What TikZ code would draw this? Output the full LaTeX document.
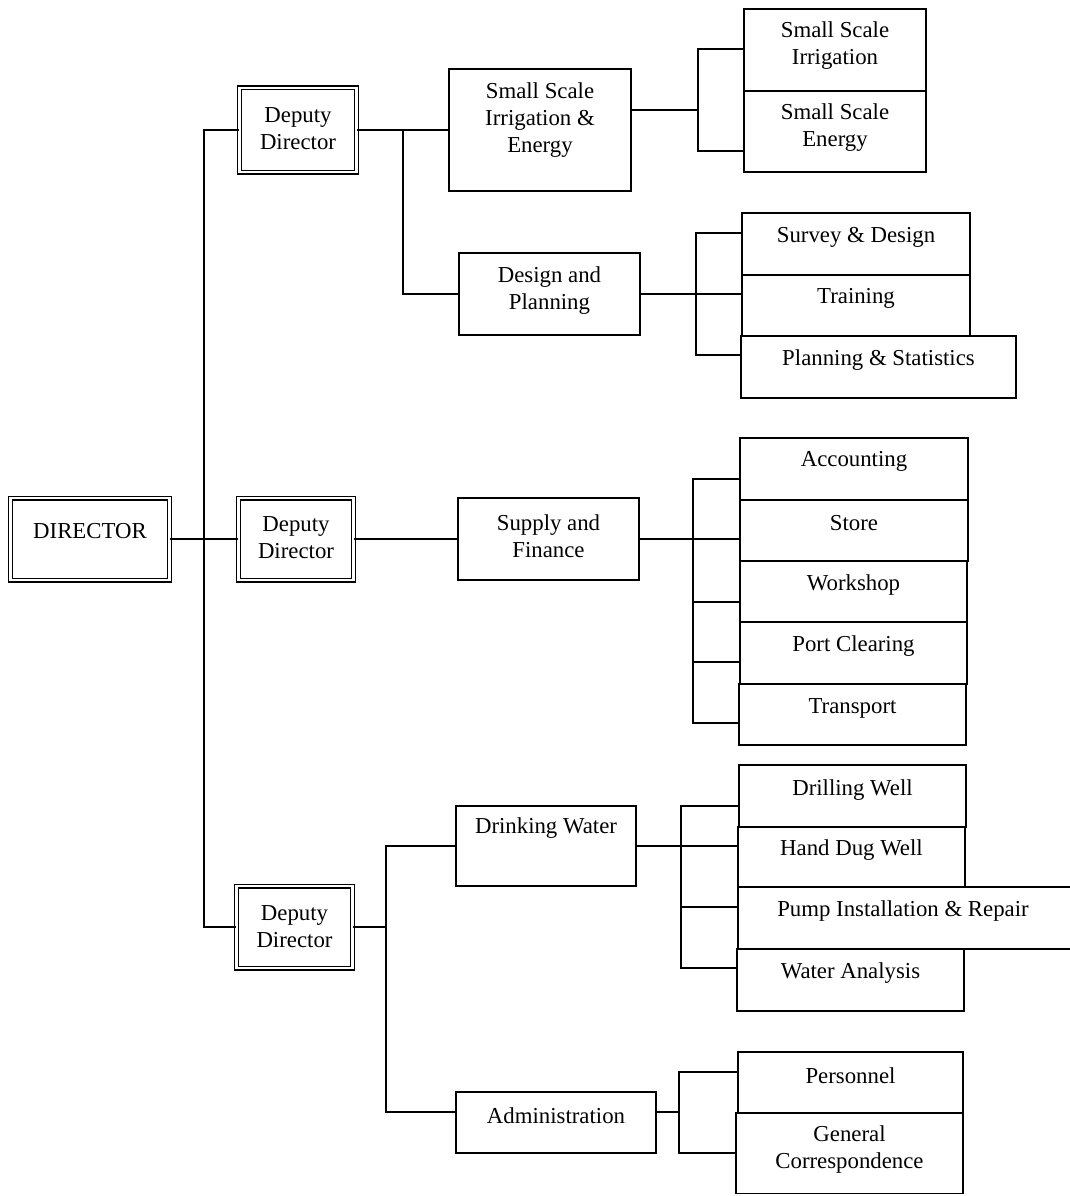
\documentclass[tikz,border=0pt]{standalone}
\usepackage{fontspec}
\setmainfont{Liberation Serif}
\begin{document}
\begin{tikzpicture}[x=1pt,y=-1pt,
  box/.style={draw, line width=1.5pt, inner sep=0pt},
  dbl/.style={draw, double, double distance=2.4pt, line width=1.3pt, inner sep=0pt},
  txt/.style={align=center, font=\fontsize{22.8}{27}\selectfont, inner sep=0pt},
  conn/.style={line width=1.5pt}]
\useasboundingbox (0,0) rectangle (1069,1196);
\fill[white] (0,0) rectangle (1069,1196);
% level 0 and 1
\node[dbl, minimum width=159, minimum height=82, label={[txt,yshift=8pt]center:DIRECTOR}] (dir) at (90,539) {};
\node[dbl, minimum width=117, minimum height=84, label={[txt,yshift=1pt]center:{Deputy\\Director}}] (dd1) at (298,130) {};
\node[dbl, minimum width=115, minimum height=82, label={[txt,yshift=1pt]center:{Deputy\\Director}}] (dd2) at (296,539) {};
\node[dbl, minimum width=116, minimum height=82, label={[txt,yshift=0pt]center:{Deputy\\Director}}] (dd3) at (294.5,927) {};
% level 2
\node[box, minimum width=182, minimum height=122, label={[txt,yshift=10pt]center:{Small Scale\\Irrigation \&\\Energy}}] (ssie) at (540,130) {};
\node[box, minimum width=181, minimum height=82, label={[txt,yshift=3pt]center:{Design and\\Planning}}] (dp) at (549.5,294) {};
\node[box, minimum width=181, minimum height=82, label={[txt,yshift=3pt]center:{Supply and\\Finance}}] (sf) at (548.5,539) {};
\node[box, minimum width=180, minimum height=80, label={[txt,yshift=18pt]center:{Drinking Water}}] (dw) at (546,846) {};
\node[box, minimum width=200, minimum height=61, label={[txt,yshift=7pt]center:{Administration}}] (adm) at (556,1122.5) {};
% level 3
\node[box, minimum width=182, minimum height=82, label={[txt,yshift=4pt]center:{Small Scale\\Irrigation}}] (ssi) at (835,50) {};
\node[box, minimum width=182, minimum height=81, label={[txt,yshift=4pt]center:{Small Scale\\Energy}}] (sse) at (835,131.5) {};
\node[box, minimum width=228, minimum height=62, label={[txt,yshift=7pt]center:{Survey \& Design}}] (sd) at (856,244) {};
\node[box, minimum width=228, minimum height=61, label={[txt,yshift=7pt]center:{Training}}] (tr) at (856,305.5) {};
\node[box, minimum width=275, minimum height=62, label={[txt,yshift=7pt]center:{Planning \& Statistics}}] (ps) at (878.5,367) {};
\node[box, minimum width=228, minimum height=62, label={[txt,yshift=8pt]center:{Accounting}}] (acc) at (854,469) {};
\node[box, minimum width=228, minimum height=61, label={[txt,yshift=7pt]center:{Store}}] (store) at (854,530.5) {};
\node[box, minimum width=227, minimum height=61, label={[txt,yshift=6pt]center:{Workshop}}] (ws) at (853.5,591.5) {};
\node[box, minimum width=227, minimum height=62, label={[txt,yshift=7pt]center:{Port Clearing}}] (pc) at (853.5,653) {};
\node[box, minimum width=227, minimum height=61, label={[txt,yshift=6pt]center:{Transport}}] (tp) at (852.5,714.5) {};
\node[box, minimum width=227, minimum height=62, label={[txt,yshift=6pt]center:{Drilling Well}}] (dwell) at (852.5,796) {};
\node[box, minimum width=227, minimum height=60, label={[txt,yshift=7pt]center:{Hand Dug Well}}] (hdw) at (851.5,857) {};
\node[box, minimum width=334, minimum height=62, label={[txt,yshift=7pt,xshift=-2pt]center:{Pump Installation \& Repair}}] (pir) at (905,918) {};
\node[box, minimum width=227, minimum height=62, label={[txt,yshift=7pt]center:{Water Analysis}}] (wa) at (850.5,980) {};
\node[box, minimum width=225, minimum height=61, label={[txt,yshift=7pt]center:{Personnel}}] (per) at (850.5,1082.5) {};
\node[box, minimum width=227, minimum height=81, label={[txt,yshift=3pt]center:{General\\Correspondence}}] (gc) at (849.5,1153) {};
% junction coordinates
\coordinate (t1) at (204,539);
\coordinate (t2) at (403,130);
\coordinate (t3) at (386,927);
\coordinate (j1) at (698,110);
\coordinate (j2) at (696,294);
\coordinate (j3) at (693,539);
\coordinate (j4) at (681,846);
\coordinate (j5) at (679,1112);
% connectors
\draw[conn] (dir.east) -- (dd2.west);
\draw[conn] (dd1.west) -| (t1) |- (dd3.west);
\draw[conn] (dd1.east) -- (dd1.east -| ssie.west);
\draw[conn] (t2) |- (dp.west);
\draw[conn] ([yshift=20pt]ssie.east) -- (j1);
\draw[conn] ([yshift=1pt]ssi.west) -| (j1) |- ([yshift=-19.5pt]sse.west);
\draw[conn] (dp.east) -- (dp.east -| tr.west);
\draw[conn] ([yshift=11pt]sd.west) -| (j2) |- ([yshift=12pt]ps.west);
\draw[conn] (dd2.east) -- (sf.west);
\draw[conn] (sf.east) -- (sf.east -| store.west);
\draw[conn] ([yshift=-10pt]acc.west) -| (j3) |- ([yshift=-8.5pt]tp.west);
\draw[conn] ([yshift=-10.5pt]ws.west) -- ([yshift=-10.5pt]ws.west -| j3);
\draw[conn] ([yshift=-9pt]pc.west) -- ([yshift=-9pt]pc.west -| j3);
\draw[conn] (dd3.east) -- (t3);
\draw[conn] (dw.west) -| (t3) |- ([yshift=10.5pt]adm.west);
\draw[conn] (dw.east) -- (dw.east -| hdw.west);
\draw[conn] ([yshift=-10pt]dwell.west) -| (j4) |- ([yshift=12pt]wa.west);
\draw[conn] ([yshift=11pt]pir.west) -- ([yshift=11pt]pir.west -| j4);
\draw[conn] ([yshift=10.5pt]adm.east) -- (j5);
\draw[conn] ([yshift=10.5pt]per.west) -| (j5) |- (gc.west);
\end{tikzpicture}
\end{document}
